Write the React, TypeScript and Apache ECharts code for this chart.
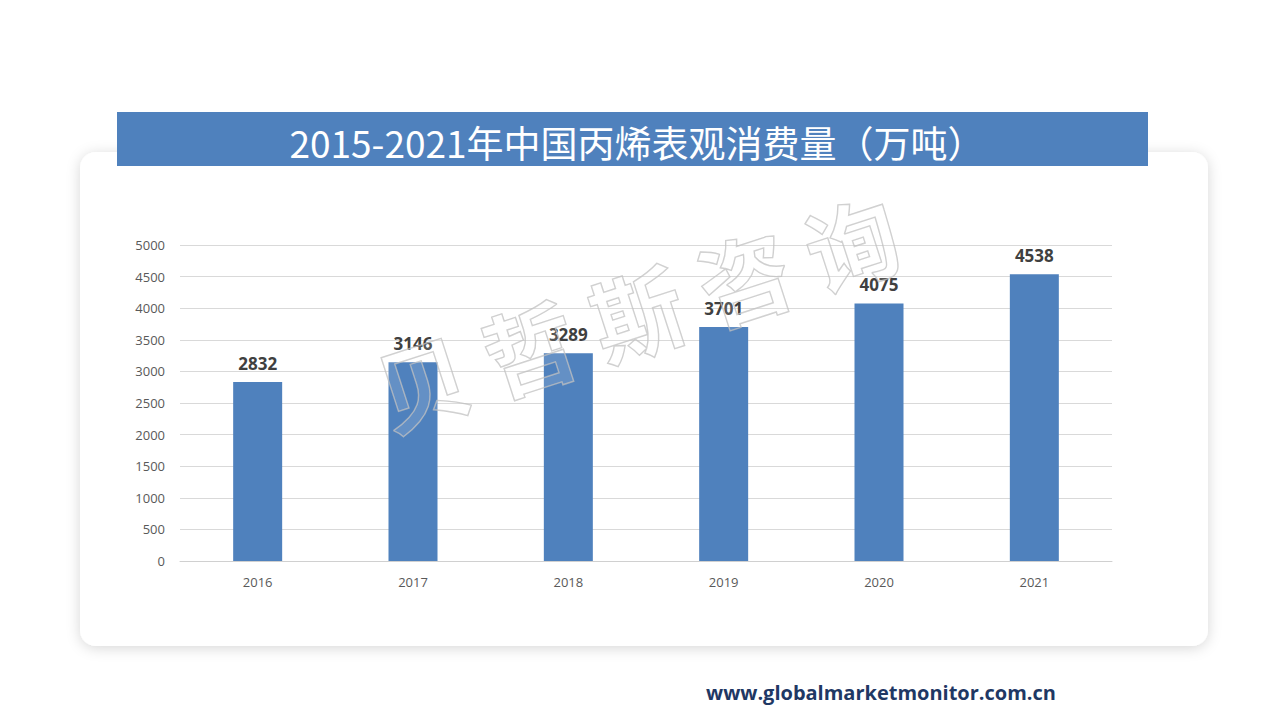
import React, { useEffect, useRef } from "react";
import * as echarts from "echarts";

const categories = ["2016", "2017", "2018", "2019", "2020", "2021"];
const values = [2832, 3146, 3289, 3701, 4075, 4538];
const titleText = "2015-2021年中国丙烯表观消费量（万吨）";
const watermarkText = "贝 哲 斯 咨 询";
const footerText = "www.globalmarketmonitor.com.cn";

export default function App() {
  const ref = useRef<HTMLDivElement>(null);
  useEffect(() => {
    if (!ref.current) return;
    const chart = echarts.init(ref.current, null, { renderer: "svg" });
    chart.setOption({
      animation: false,
      backgroundColor: "#ffffff",
      grid: { left: 180, right: 168, top: 245, bottom: 159 },
      xAxis: {
        type: "category",
        data: categories,
        axisLine: { show: true, lineStyle: { color: "#d0d0d0", width: 1 } },
        axisTick: { show: false },
        axisLabel: { color: "#595959", fontSize: 13, margin: 14, fontFamily: "Open Sans" },
      },
      yAxis: {
        type: "value",
        min: 0,
        max: 5000,
        interval: 500,
        axisLine: { show: false },
        axisTick: { show: false },
        splitLine: { lineStyle: { color: "#d9d9d9", width: 1 } },
        axisLabel: {
          color: "#595959",
          fontSize: 13,
          margin: 15,
          fontFamily: "Open Sans",
          formatter: (v: number) => String(v),
        },
      },
      series: [
        {
          type: "bar",
          data: values,
          barWidth: 49,
          itemStyle: { color: "#4F81BD" },
          label: {
            show: true,
            position: "top",
            distance: 10,
            color: "#404040",
            fontSize: 17,
            fontWeight: "bold",
            fontFamily: "Open Sans",
          },
          z: 2,
        },
      ],
      graphic: [
        {
          type: "rect",
          z: -10,
          silent: true,
          shape: { x: 80, y: 152, width: 1128, height: 494, r: 16 },
          style: {
            fill: "#ffffff",
            shadowBlur: 14,
            shadowColor: "rgba(0,0,0,0.16)",
            shadowOffsetX: 0,
            shadowOffsetY: 2,
          },
        },
        {
          type: "rect",
          z: 5,
          silent: true,
          shape: { x: 117, y: 112, width: 1031, height: 54 },
          style: { fill: "#4F81BD" },
        },
        {
          type: "text",
          z: 6,
          silent: true,
          x: 637,
          y: 142,
          style: {
            text: titleText,
            fill: "#ffffff",
            fontSize: 37,
            fontFamily: "Noto Sans CJK SC",
            align: "center",
            verticalAlign: "middle",
          },
        },
        {
          type: "text",
          z: 20,
          silent: true,
          x: 636,
          y: 310,
          rotation: (18 * Math.PI) / 180,
          style: {
            text: watermarkText,
            fill: "rgba(255,255,255,0.12)",
            stroke: "rgba(190,190,190,0.75)",
            lineWidth: 1.4,
            fontSize: 92,
            fontWeight: "bold",
            fontFamily: "Noto Sans CJK SC",
            align: "center",
            verticalAlign: "middle",
          },
        },
        {
          type: "text",
          z: 6,
          silent: true,
          x: 881,
          y: 692,
          style: {
            text: footerText,
            fill: "#1F3864",
            fontSize: 20,
            fontWeight: "bold",
            fontFamily: "Open Sans",
            align: "center",
            verticalAlign: "middle",
          },
        },
      ],
    });
    return () => chart.dispose();
  }, []);
  return (
    <div
      ref={ref}
      style={{ position: "fixed", left: 0, top: 0, width: 1280, height: 720 }}
    />
  );
}
